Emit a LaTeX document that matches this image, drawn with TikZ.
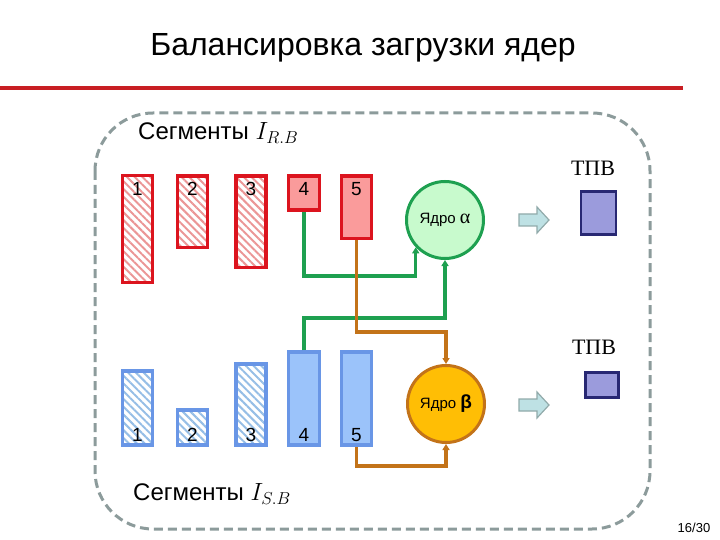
\documentclass[tikz,border=0pt]{standalone}
\usepackage{fontspec}
\setmainfont{Liberation Sans}
\newfontfamily\seriffont{Liberation Serif}
\usetikzlibrary{arrows.meta,patterns.meta}
\definecolor{redline}{RGB}{200,30,35}
\definecolor{redbar}{RGB}{220,20,30}
\definecolor{redfill}{RGB}{250,155,155}
\definecolor{redhatch}{RGB}{235,150,150}
\definecolor{bluebar}{RGB}{105,150,230}
\definecolor{bluefill}{RGB}{155,195,250}
\definecolor{bluehatch}{RGB}{150,190,230}
\definecolor{frame}{RGB}{140,155,155}
\definecolor{greenc}{RGB}{30,160,80}
\definecolor{greenfill}{RGB}{200,250,205}
\definecolor{orangec}{RGB}{195,115,25}
\definecolor{orangefill}{RGB}{255,190,5}
\definecolor{tpvfill}{RGB}{155,155,220}
\definecolor{tpvline}{RGB}{40,40,115}
\definecolor{arrfill}{RGB}{190,225,228}
\definecolor{arrline}{RGB}{145,170,170}
\tikzset{
  bar/.style={draw, line width=3.2pt, minimum width=30pt, inner sep=0pt},
  redh/.style={bar, draw=redbar, pattern={Lines[angle=-45,distance=5.5pt,line width=2pt]}, pattern color=redhatch},
  redf/.style={bar, draw=redbar, fill=redfill},
  blueh/.style={bar, draw=bluebar, pattern={Lines[angle=-45,distance=5.5pt,line width=2pt]}, pattern color=bluehatch},
  bluef/.style={bar, draw=bluebar, fill=bluefill},
  num/.style={font=\fontsize{19}{19}\selectfont, inner sep=0pt},
  core/.style={circle, line width=3pt, minimum size=77pt, inner sep=0pt, font=\fontsize{15}{15}\selectfont},
  tpv/.style={draw=tpvline, fill=tpvfill, line width=2.5pt, inner sep=0pt},
  tpvlab/.style={font=\seriffont\fontsize{22}{22}\selectfont, inner sep=0pt},
  bigarrow/.style={draw=arrline, fill=arrfill, line width=1.2pt, line join=miter},
  seg/.style={font=\fontsize{24}{24}\selectfont, inner sep=0pt, anchor=west},
  conn/.style={line width=3.2pt, -{Triangle[length=6pt,width=7pt]}},
}
\begin{document}
\begin{tikzpicture}[x=1pt,y=-1pt]
\useasboundingbox (0,0) rectangle (720,540);
% title
\node[font=\fontsize{32}{32}\selectfont, inner sep=0pt] (title) at (363,48) {Балансировка загрузки ядер};
\draw[redline, line width=3.2pt] (0,88) -- (683,88);
% dashed frame
\draw[frame, line width=3pt, dash pattern=on 9pt off 5pt, rounded corners=58pt] (95,113) rectangle (650,529);
% segment labels
\node[seg] (segR) at (138,133) {Сегменты $\fontsize{26}{26}\selectfont I_{R.B}$};
\node[seg] (segS) at (133,494) {Сегменты $\fontsize{26}{26}\selectfont I_{S.B}$};
% red bars
\node[redh, minimum height=107pt, anchor=north] (r1) at (137.5,174.5) {};
\node[redh, minimum height=71pt, anchor=north] (r2) at (192.5,174.5) {};
\node[redh, minimum height=91pt, anchor=north] (r3) at (251,174.5) {};
\node[redf, minimum height=34pt, minimum width=31pt, anchor=north] (r4) at (304,174.5) {};
\node[redf, minimum height=62pt, anchor=north] (r5) at (356.5,174.5) {};
\foreach \i/\x in {1/137.5,2/192.5,3/251,4/304,5/356.5}
  \node[num] (rl\i) at (\x,189) {\i};
% blue bars
\node[blueh, minimum height=74pt, anchor=south] (b1) at (137.5,446.5) {};
\node[blueh, minimum height=35pt, anchor=south] (b2) at (192.5,446.5) {};
\node[blueh, minimum height=81pt, anchor=south] (b3) at (251,446.5) {};
\node[bluef, minimum height=93pt, minimum width=31pt, anchor=south] (b4) at (304,446.5) {};
\node[bluef, minimum height=93pt, anchor=south] (b5) at (356.5,446.5) {};
\foreach \i/\x in {1/137.5,2/192.5,3/251,4/304,5/356.5}
  \node[num] (bl\i) at (\x,435) {\i};
% cores
\node[core, draw=greenc, fill=greenfill] (alpha) at (445,220) {Ядро {\seriffont\fontsize{20}{20}\selectfont α}};
\node[core, draw=orangec, fill=orangefill] (beta) at (446,404) {Ядро {\bfseries\fontsize{19}{19}\selectfont β}};
% block arrows
\foreach \y in {220,405}
  \draw[bigarrow] (519,\y-6) -- (537,\y-6) -- (537,\y-13) -- (549,\y) -- (537,\y+13) -- (537,\y+6) -- (519,\y+6) -- cycle;
% TPV
\node[tpvlab] (t1l) at (593,168) {ТПВ};
\node[tpv, minimum width=35pt, minimum height=43pt] (t1) at (598.5,213) {};
\node[tpvlab] (t2l) at (594,347) {ТПВ};
\node[tpv, minimum width=33pt, minimum height=25pt] (t2) at (602,385) {};
% connectors
\draw[conn, greenc] (r4.south) -- (r4.south |- 0,276) -| (alpha.223);
\draw[conn, greenc] (b4.north) -- (b4.north |- 0,318) -| (alpha.south);
\draw[conn, orangec] (r5.south) -- (r5.south |- 0,332) -| (beta.north);
\draw[conn, orangec] (b5.south) -- (b5.south |- 0,466) -| (beta.south);
% page number
\node[font=\fontsize{13}{13}\selectfont, inner sep=0pt] (pg) at (694,528) {16/30};
\end{tikzpicture}
\end{document}
